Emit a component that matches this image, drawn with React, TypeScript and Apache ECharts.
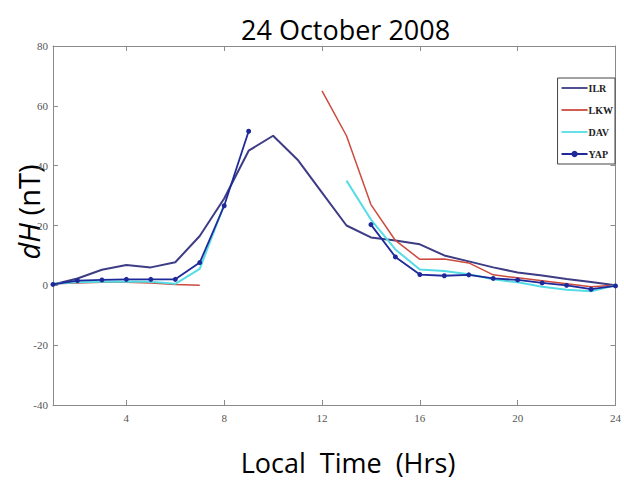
import React, { useEffect, useRef } from "react";
import * as echarts from "echarts";

const hours = [1, 2, 3, 4, 5, 6, 7, 8, 9, 10, 11, 12, 13, 14, 15, 16, 17, 18, 19, 20, 21, 22, 23, 24];
const ilr = [0.3, 2.3, 5.2, 6.8, 6, 7.7, 16.5, 29, 45, 50, 42, 31, 20, 16, 15, 13.7, 10, 8, 6, 4.3, 3.3, 2.1, 1.1, 0];
const lkw = [0.5, 0.8, 1, 1, 0.8, 0.3, 0, null, null, null, null, 65, 50, 27, 15, 8.7, 8.8, 7.5, 3.5, 2.5, 1.5, 0.5, -0.5, 0];
const dav = [0.5, 1, 1.2, 1.3, 1.2, 0.5, 5.5, 27, null, null, null, null, 35, 22, 12, 5.3, 4.8, 3.7, 2, 1, -0.5, -1.5, -2, 0];
const yap = [0.3, 1.6, 1.8, 2, 2, 2, 7.6, 26.6, 51.5, null, null, null, null, 20.3, 9.5, 3.6, 3.2, 3.5, 2.3, 1.8, 0.8, 0, -1.3, -0.2];
const xTicks = [4, 8, 12, 16, 20, 24];
const seriesNames = ["ILR", "LKW", "DAV", "YAP"];

const pair = (vals: (number | null)[]) => hours.map((h, i) => [h, vals[i]]);
const lineIcon = "path://M0,0L26,0L26,1.8L0,1.8Z";

export default function App() {
  const ref = useRef<HTMLDivElement>(null);
  useEffect(() => {
    if (!ref.current) return;
    const chart = echarts.init(ref.current, null, { renderer: "svg" });
    const axisGray = "#8a8a8a";
    const labelStyle = { color: "#555", fontFamily: "Liberation Serif", fontSize: 11 };
    chart.setOption({
      animation: false,
      backgroundColor: "#fff",
      title: {
        text: "24 October 2008",
        left: 236,
        top: 11,
        textStyle: { fontFamily: "Open Sans", fontWeight: "normal", fontSize: 27, color: "#000" },
      },
      legend: {
        orient: "vertical",
        right: 9,
        top: 78,
        data: [
          { name: seriesNames[0], icon: lineIcon },
          { name: seriesNames[1], icon: lineIcon },
          { name: seriesNames[2], icon: lineIcon },
          { name: seriesNames[3] },
        ],
        itemWidth: 26,
        itemHeight: 8,
        itemGap: 12,
        padding: [5, 2, 5, 3],
        borderColor: "#444",
        borderWidth: 1,
        backgroundColor: "#fff",
        textStyle: { fontFamily: "Liberation Serif", fontWeight: "bold", fontSize: 10, color: "#222", padding: [0, 0, 0, -4] },
      },
      grid: { left: 53, right: 7, top: 46, bottom: 90, containLabel: false },
      xAxis: [
        {
          type: "value",
          min: 1,
          max: 24,
          axisLine: { show: true, onZero: false, lineStyle: { color: axisGray } },
          axisTick: { show: true, inside: true, length: 5, customValues: xTicks, lineStyle: { color: axisGray } },
          axisLabel: { customValues: xTicks, margin: 7, ...labelStyle },
          splitLine: { show: false },
        },
        {
          type: "value",
          position: "top",
          min: 1,
          max: 24,
          axisLine: { show: true, onZero: false, lineStyle: { color: axisGray } },
          axisTick: { show: true, inside: true, length: 5, customValues: xTicks, lineStyle: { color: axisGray } },
          axisLabel: { show: false },
          splitLine: { show: false },
        },
      ],
      yAxis: [
        {
          type: "value",
          min: -40,
          max: 80,
          interval: 20,
          axisLine: { show: true, onZero: false, lineStyle: { color: axisGray } },
          axisTick: { show: true, inside: true, length: 5, lineStyle: { color: axisGray } },
          axisLabel: { margin: 5, ...labelStyle },
          splitLine: { show: false },
        },
        {
          type: "value",
          position: "right",
          min: -40,
          max: 80,
          interval: 20,
          axisLine: { show: true, onZero: false, lineStyle: { color: axisGray } },
          axisTick: { show: true, inside: true, length: 5, lineStyle: { color: axisGray } },
          axisLabel: { show: false },
          splitLine: { show: false },
        },
      ],
      graphic: [
        {
          type: "text",
          x: 348,
          y: 462,
          style: {
            text: "Local  Time  (Hrs)",
            textAlign: "center",
            textVerticalAlign: "middle",
            fontFamily: "Open Sans",
            fontSize: 27,
            fill: "#000",
          },
        },
        {
          type: "text",
          x: 28,
          y: 212,
          rotation: Math.PI / 2,
          style: {
            text: "{i|dH} (nT)",
            textAlign: "center",
            textVerticalAlign: "middle",
            fontFamily: "Open Sans",
            fontSize: 29,
            fill: "#000",
            rich: {
              i: { fontStyle: "italic", fontFamily: "Open Sans", fontSize: 29, fill: "#000" },
            },
          },
        },
      ],
      series: [
        {
          name: "ILR",
          type: "line",
          data: pair(ilr),
          symbol: "none",
          lineStyle: { color: "#3d3c85", width: 2 },
          itemStyle: { color: "#3d3c85" },
        },
        {
          name: "LKW",
          type: "line",
          data: pair(lkw),
          symbol: "none",
          lineStyle: { color: "#cc4a3e", width: 1.5 },
          itemStyle: { color: "#cc4a3e" },
        },
        {
          name: "DAV",
          type: "line",
          data: pair(dav),
          symbol: "none",
          lineStyle: { color: "#55dde6", width: 2 },
          itemStyle: { color: "#55dde6" },
        },
        {
          name: "YAP",
          type: "line",
          data: pair(yap),
          symbol: "circle",
          symbolSize: 5,
          showSymbol: true,
          lineStyle: { color: "#1f2a9a", width: 1.8 },
          itemStyle: { color: "#1f2a9a" },
        },
      ],
    });
    return () => chart.dispose();
  }, []);
  return <div ref={ref} style={{ width: 624, height: 495, position: "absolute", left: 0, top: 0 }} />;
}
